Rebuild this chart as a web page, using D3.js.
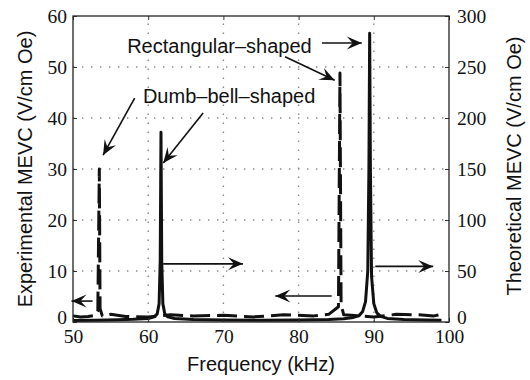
<!DOCTYPE html>
<html>
<head>
<meta charset="utf-8">
<script src="https://cdn.jsdelivr.net/npm/d3@7"></script>
<style>
  body { margin: 0; background: #fff; }
  svg { display: block; }
  .tick text { font-family: "Liberation Serif", "Times New Roman", serif; font-size: 19.5px; fill: #111; }
  .lbl { font-family: "Liberation Sans", Arial, sans-serif; fill: #111; }
</style>
</head>
<body>
<svg width="530" height="380"></svg>
<script>
// ticks
const xTicks = [50, 60, 70, 80, 90, 100];
const leftTicks = [0, 10, 20, 30, 40, 50, 60];
const rightTicks = [0, 50, 100, 150, 200, 250, 300];

// theoretical (solid, right axis)
const theoFreq = [50, 53, 56, 58, 60, 60.8, 61.2, 61.45, 61.6, 61.7, 61.8, 61.95, 62.2, 62.6, 63.5, 66, 70, 75, 80, 84, 86, 87.3, 88.0, 88.5, 88.9, 89.2, 89.35, 89.45, 89.55, 89.7, 90.0, 90.4, 90.9, 91.8, 94, 97, 99];
const theoVal  = [1.5, 1.8, 2.2, 2.6, 3.5, 5, 8, 18, 60, 186, 60, 18, 8, 5, 3.5, 2.5, 2, 1.8, 2, 2.5, 3.2, 4.5, 6, 10, 20, 50, 150, 283, 150, 45, 18, 9, 5.5, 3.5, 2.5, 2, 1.8];

// experimental (dashed, left axis)
const expFreq = [50, 51, 52, 53, 53.3, 53.5, 53.6, 53.9, 55, 57, 60, 63, 66, 70, 74, 78, 82, 84, 85.3, 85.5, 85.65, 86, 87, 90, 93, 96, 98, 99];
const expVal  = [1.2, 1.0, 1.1, 1.3, 2.2, 30, 2.6, 1.2, 1.5, 1.1, 1.0, 1.4, 1.2, 1.3, 1.0, 1.4, 1.2, 1.5, 3.0, 48.8, 3.4, 1.4, 1.3, 1.0, 1.5, 1.4, 1.2, 1.5];

// annotations in data units (kHz, left-axis value)
const labels = [
  { text: "Rectangular\u2013shaped", x: 57.2, y: 52.7 },
  { text: "Dumb\u2013bell\u2013shaped", x: 59.3, y: 42.9 }
];
const arrows = [
  { x1: 83.1, y1: 54.7, x2: 88.4, y2: 54.7 },
  { x1: 78.2, y1: 52.0, x2: 84.8, y2: 47.4 },
  { x1: 58.2, y1: 43.9, x2: 54.0, y2: 32.7 },
  { x1: 67.3, y1: 41.0, x2: 62.0, y2: 31.2 },
  { x1: 52.6, y1: 4.1, x2: 49.8, y2: 4.1 },
  { x1: 62.0, y1: 11.4, x2: 72.6, y2: 11.4 },
  { x1: 84.4, y1: 5.1, x2: 76.9, y2: 5.1 },
  { x1: 90.2, y1: 10.9, x2: 97.9, y2: 10.9 }
];

const svg = d3.select('svg');
const pl = 73, pr = 449, pt = 16, pb = 322;

const x = d3.scaleLinear().domain([50, 100]).range([pl, pr]);
const yL = d3.scaleLinear().domain([0, 60]).range([pb, pt]);
const yR = d3.scaleLinear().domain([0, 300]).range([pb, pt]);

// grid
const grid = svg.append('g')
  .attr('stroke', '#8a8a8a')
  .attr('stroke-width', 1.4)
  .attr('stroke-dasharray', '1.4,7.6');
grid.selectAll('.gx')
  .data(xTicks.slice(1, -1))
  .join('line')
  .attr('class', 'gx')
  .attr('x1', d => x(d)).attr('x2', d => x(d))
  .attr('y1', pb).attr('y2', pt);
grid.selectAll('.gy')
  .data(leftTicks.slice(1, -1))
  .join('line')
  .attr('class', 'gy')
  .attr('y1', d => yL(d)).attr('y2', d => yL(d))
  .attr('x1', pl).attr('x2', pr);

// data lines
const theoLine = d3.line()
  .x((d, i) => x(theoFreq[i]))
  .y(d => yR(d));
const expLine = d3.line()
  .x((d, i) => x(expFreq[i]))
  .y(d => yL(d));

svg.append('path')
  .datum(expVal)
  .attr('fill', 'none')
  .attr('stroke', '#111')
  .attr('stroke-width', 3)
  .attr('stroke-dasharray', '20,7')
  .attr('stroke-linejoin', 'round')
  .attr('d', expLine);

svg.append('path')
  .datum(theoVal)
  .attr('fill', 'none')
  .attr('stroke', '#111')
  .attr('stroke-width', 3)
  .attr('stroke-linejoin', 'round')
  .attr('d', theoLine);

// axes
const axisB = d3.axisBottom(x).tickValues(xTicks).tickSize(-4).tickPadding(7);
const axisT = d3.axisTop(x).tickValues(xTicks).tickSize(-4).tickFormat('');
const axisL = d3.axisLeft(yL).tickValues(leftTicks).tickSize(-4).tickPadding(6);
const axisR = d3.axisRight(yR).tickValues(rightTicks).tickSize(-4).tickPadding(8);

function styleAxis(g) {
  g.select('.domain').remove();
  g.selectAll('.tick line').attr('stroke', '#333');
}
svg.append('g').attr('transform', `translate(0,${pb})`).call(axisB).call(styleAxis);
svg.append('g').attr('transform', `translate(0,${pt})`).call(axisT).call(styleAxis);
const gL = svg.append('g').attr('transform', `translate(${pl},0)`).call(axisL).call(styleAxis);
const gR = svg.append('g').attr('transform', `translate(${pr},0)`).call(axisR).call(styleAxis);
svg.selectAll('g[font-family]').attr('font-family', null).attr('font-size', null);
// lift the zero labels a little so they clear the frequency labels
gL.selectAll('.tick text').filter(d => d === 0).attr('dy', '0.1em');
gR.selectAll('.tick text').filter(d => d === 0).attr('dy', '0.1em');

svg.append('rect')
  .attr('x', pl).attr('y', pt)
  .attr('width', pr - pl).attr('height', pb - pt)
  .attr('fill', 'none')
  .attr('stroke', '#222')
  .attr('stroke-width', 1.3);

// arrows
function head(a) {
  const x1 = x(a.x1), y1 = yL(a.y1), x2 = x(a.x2), y2 = yL(a.y2);
  const ang = Math.atan2(y2 - y1, x2 - x1);
  const L = 15, W = 6.5, N = 9;
  const c = Math.cos(ang), s = Math.sin(ang);
  const p = (u, v) => [x2 + u * c - v * s, y2 + u * s + v * c];
  return [p(0, 0), p(-L, -W), p(-N, 0), p(-L, W)];
}
const ag = svg.append('g');
ag.selectAll('line')
  .data(arrows)
  .join('line')
  .attr('x1', d => x(d.x1)).attr('y1', d => yL(d.y1))
  .attr('x2', d => x(d.x2)).attr('y2', d => yL(d.y2))
  .attr('stroke', '#111')
  .attr('stroke-width', 1.6);
ag.selectAll('path')
  .data(arrows)
  .join('path')
  .attr('d', d => 'M' + head(d).join('L') + 'Z')
  .attr('fill', '#111');

svg.selectAll('.ann')
  .data(labels)
  .join('text')
  .attr('class', 'lbl ann')
  .attr('x', d => x(d.x))
  .attr('y', d => yL(d.y))
  .attr('font-size', 20)
  .text(d => d.text);

// axis titles
svg.append('text')
  .attr('class', 'lbl')
  .attr('font-size', 20)
  .attr('text-anchor', 'middle')
  .attr('x', (pl + pr) / 2)
  .attr('y', 371)
  .text('Frequency (kHz)');

svg.append('text')
  .attr('class', 'lbl')
  .attr('font-size', 20)
  .attr('text-anchor', 'middle')
  .attr('transform', 'translate(32,169) rotate(-90)')
  .text('Experimental MEVC (V/cm Oe)');

svg.append('text')
  .attr('class', 'lbl')
  .attr('font-size', 20)
  .attr('text-anchor', 'middle')
  .attr('transform', 'translate(521,166) rotate(-90)')
  .text('Theoretical MEVC (V/cm Oe)');
</script>
</body>
</html>
